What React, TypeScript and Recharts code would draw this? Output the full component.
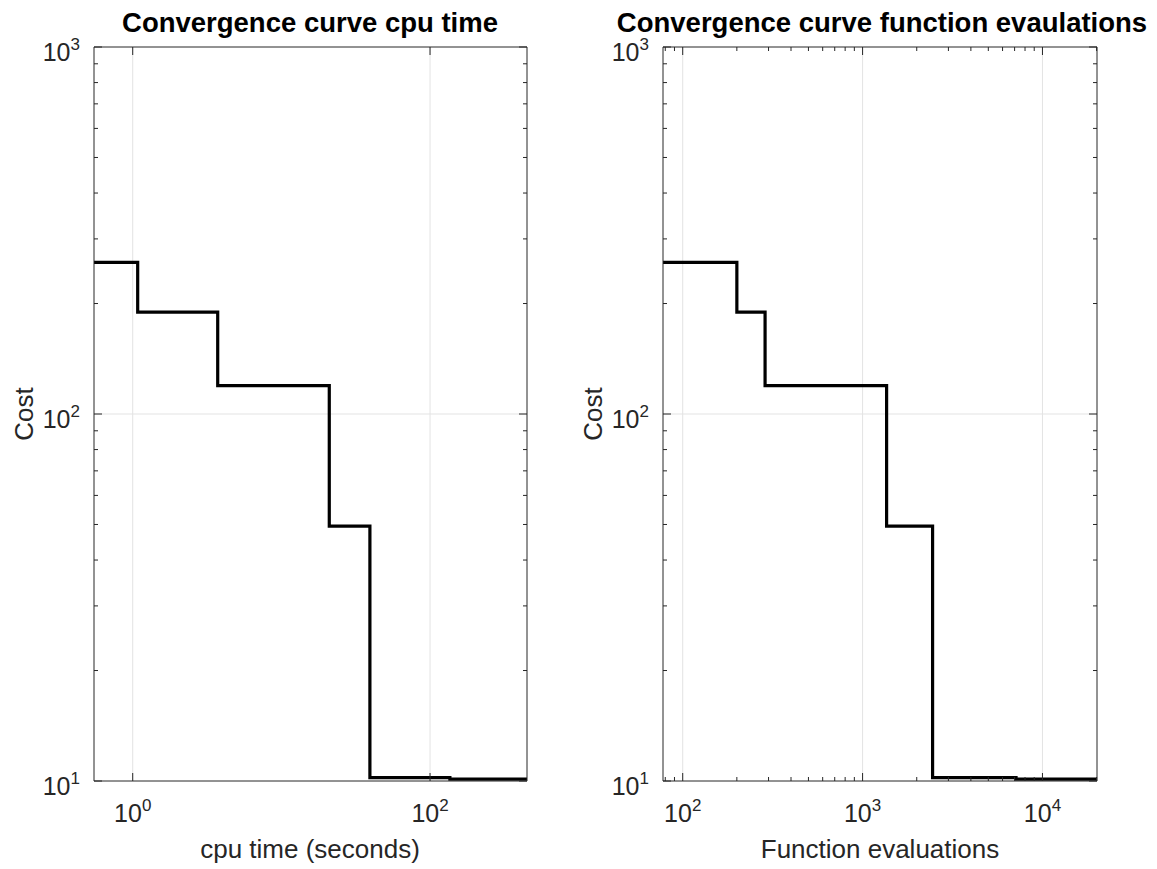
import React from 'react';
import { LineChart, Line, XAxis, YAxis, ReferenceLine } from 'recharts';

// best cost after each improvement (stairs), shared by both panels
const costLevels = [259, 189.4, 119.5, 49.5, 10.22, 10.12, 10.12];
const cpuTimes = [0.549, 1.08, 3.73, 21.0, 39.4, 136, 449];
const funcEvals = [77.7, 200, 287, 1360, 2450, 7130, 20100];

// tick sets
const costMajor = [10, 100, 1000];
const costTicks = [10, 20, 30, 40, 50, 60, 70, 80, 90, 100, 200, 300, 400, 500, 600, 700, 800, 900, 1000];
const cpuMajor = [1, 100];
const cpuTicks = [1, 100];
const evalMajor = [100, 1000, 10000];
const evalTicks = [80, 90, 100, 200, 300, 400, 500, 600, 700, 800, 900, 1000, 2000, 3000, 4000, 5000, 6000, 7000, 8000, 9000, 10000, 20000];

const FONT = '"Liberation Sans", Arial, Helvetica, sans-serif';
const AXIS_COLOR = '#262626';
const GRID_COLOR = '#e3e3e3';
const W = 1157;
const H = 869;

type Side = 'bottom' | 'top' | 'left' | 'right';

function makeTick(side: Side, majors: number[], labelled: boolean) {
  return (props: any) => {
    const { x, y, payload } = props;
    const v = payload.value;
    const major = majors.includes(v);
    const len = major ? 8 : 4;
    let x2 = x;
    let y2 = y;
    if (side === 'bottom') y2 = y - len;
    if (side === 'top') y2 = y + len;
    if (side === 'left') x2 = x + len;
    if (side === 'right') x2 = x - len;
    const exp = Math.round(Math.log10(v));
    return (
      <g>
        <line x1={x} y1={y} x2={x2} y2={y2} stroke={AXIS_COLOR} strokeWidth={1} />
        {labelled && major && side === 'bottom' && (
          <text x={x} y={y + 41} textAnchor="middle" fill={AXIS_COLOR} fontFamily={FONT} fontSize={25}>
            10<tspan dy={-11} fontSize={17}>{exp}</tspan>
          </text>
        )}
        {labelled && major && side === 'left' && (
          <text x={x - 14} y={y + 14} textAnchor="end" fill={AXIS_COLOR} fontFamily={FONT} fontSize={25}>
            10<tspan dy={-11} fontSize={17}>{exp}</tspan>
          </text>
        )}
      </g>
    );
  };
}

interface PanelProps {
  xs: number[];
  xTicks: number[];
  xMajor: number[];
  width: number;
  left: number;
  margin: { top: number; right: number; bottom: number; left: number };
}

function StairPanel({ xs, xTicks, xMajor, width, left, margin }: PanelProps) {
  const data = xs.map((x, i) => ({ x, cost: costLevels[i] }));
  const xDomain = [xs[0], xs[xs.length - 1]];
  const axisLine = { stroke: AXIS_COLOR, strokeWidth: 1 };
  // axes get 1px of room: a zero-sized axis is not drawn at all
  const m = { top: margin.top - 1, right: margin.right - 1, bottom: margin.bottom - 1, left: margin.left - 1 };
  return (
    <div style={{ position: 'absolute', left, top: 0 }}>
      <LineChart width={width} height={H} data={data} margin={m}>
        {xMajor.map((v) => (
          <ReferenceLine key={'gx' + v} xAxisId="b" yAxisId="l" x={v} stroke={GRID_COLOR} strokeWidth={1} />
        ))}
        <ReferenceLine xAxisId="b" yAxisId="l" y={100} stroke={GRID_COLOR} strokeWidth={1} />
        <XAxis xAxisId="b" dataKey="x" type="number" scale="log" domain={xDomain} allowDataOverflow
          ticks={xTicks} interval={0} height={1} tickSize={0} tickMargin={0} tickLine={false}
          axisLine={axisLine} tick={makeTick('bottom', xMajor, true)} />
        <XAxis xAxisId="t" orientation="top" dataKey="x" type="number" scale="log" domain={xDomain} allowDataOverflow
          ticks={xTicks} interval={0} height={1} tickSize={0} tickMargin={0} tickLine={false}
          axisLine={axisLine} tick={makeTick('top', xMajor, false)} />
        <YAxis yAxisId="l" type="number" scale="log" domain={[10, 1000]} allowDataOverflow
          ticks={costTicks} interval={0} width={1} tickSize={0} tickMargin={0} tickLine={false}
          axisLine={axisLine} tick={makeTick('left', costMajor, true)} />
        <YAxis yAxisId="r" orientation="right" type="number" scale="log" domain={[10, 1000]} allowDataOverflow
          ticks={costTicks} interval={0} width={1} tickSize={0} tickMargin={0} tickLine={false}
          axisLine={axisLine} tick={makeTick('right', costMajor, false)} />
        <Line xAxisId="b" yAxisId="l" type="stepAfter" dataKey="cost" stroke="#000" strokeWidth={3.2}
          dot={false} isAnimationActive={false} />
      </LineChart>
    </div>
  );
}

export default function App() {
  const titleStyle = { fontFamily: FONT, fontSize: 27.5, fontWeight: 700, fill: '#000' };
  const labelStyle = { fontFamily: FONT, fontSize: 26, fill: AXIS_COLOR };
  return (
    <div style={{ position: 'absolute', left: 0, top: 0, width: W, height: H, background: '#fff' }}>
      <StairPanel xs={cpuTimes} xTicks={cpuTicks} xMajor={cpuMajor} width={560} left={0}
        margin={{ top: 47, right: 33, bottom: 88, left: 94 }} />
      <StairPanel xs={funcEvals} xTicks={evalTicks} xMajor={evalMajor} width={597} left={560}
        margin={{ top: 47, right: 60, bottom: 88, left: 103 }} />
      <svg width={W} height={H} style={{ position: 'absolute', left: 0, top: 0, pointerEvents: 'none' }}>
        <text x={310} y={32} textAnchor="middle" style={titleStyle}>Convergence curve cpu time</text>
        <text x={882} y={32} textAnchor="middle" style={titleStyle}>Convergence curve function evaulations</text>
        <text x={310} y={858} textAnchor="middle" style={labelStyle}>cpu time (seconds)</text>
        <text x={880} y={858} textAnchor="middle" style={labelStyle}>Function evaluations</text>
        <text transform="translate(33,414) rotate(-90)" textAnchor="middle" style={labelStyle}>Cost</text>
        <text transform="translate(602,414) rotate(-90)" textAnchor="middle" style={labelStyle}>Cost</text>
      </svg>
    </div>
  );
}
